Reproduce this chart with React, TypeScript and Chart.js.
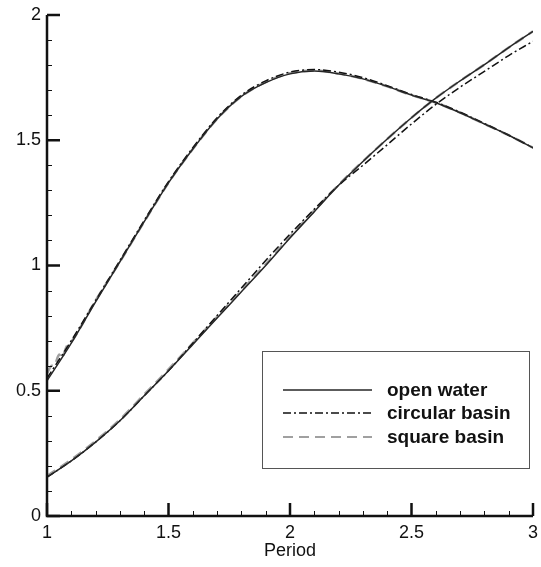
import React, { useEffect, useRef } from "react";
import { Chart, registerables } from "chart.js";

Chart.register(...registerables);

// ---- data ----
const periods = [1.0, 1.1, 1.2, 1.3, 1.4, 1.5, 1.6, 1.7, 1.8, 1.9, 2.0, 2.1, 2.2, 2.3, 2.4, 2.5, 2.6, 2.7, 2.8, 2.9, 3.0];

const openWaterUpper = [0.54, 0.69, 0.855, 1.015, 1.175, 1.33, 1.465, 1.585, 1.675, 1.73, 1.765, 1.776, 1.765, 1.745, 1.715, 1.68, 1.65, 1.61, 1.565, 1.52, 1.47];
const openWaterLower = [0.155, 0.22, 0.295, 0.38, 0.48, 0.58, 0.685, 0.79, 0.895, 1.0, 1.11, 1.215, 1.32, 1.415, 1.505, 1.59, 1.668, 1.737, 1.802, 1.87, 1.935];

const circularUpper = [0.55, 0.7, 0.86, 1.02, 1.18, 1.335, 1.47, 1.59, 1.68, 1.737, 1.772, 1.782, 1.772, 1.75, 1.718, 1.683, 1.652, 1.612, 1.567, 1.52, 1.47];
const circularLower = [0.155, 0.22, 0.295, 0.38, 0.48, 0.58, 0.69, 0.8, 0.91, 1.02, 1.125, 1.225, 1.32, 1.4, 1.482, 1.565, 1.643, 1.712, 1.775, 1.838, 1.895];

const squareUpperPeriods = [1.0, 1.02, 1.03, 1.05, 1.06, 1.08, 1.1, 1.2, 1.3, 1.4, 1.5, 1.6, 1.7, 1.8, 1.9, 2.0, 2.1, 2.2, 2.3, 2.4, 2.5, 2.6, 2.7, 2.8, 2.9, 3.0];
const squareUpper = [0.57, 0.6, 0.6, 0.645, 0.63, 0.675, 0.695, 0.86, 1.015, 1.175, 1.33, 1.465, 1.585, 1.675, 1.732, 1.768, 1.778, 1.766, 1.745, 1.715, 1.68, 1.65, 1.61, 1.565, 1.52, 1.47];
const squareLower = [0.16, 0.225, 0.3, 0.385, 0.485, 0.585, 0.69, 0.795, 0.9, 1.005, 1.115, 1.22, 1.322, 1.416, 1.505, 1.59, 1.668, 1.737, 1.802, 1.87, 1.935];

const seriesNames = ["open water", "circular basin", "square basin"];
const xMin = 1, xMax = 3, xMajorStep = 0.5, xMinorStep = 0.1;
const yMin = 0, yMax = 2, yMajorStep = 0.5, yMinorStep = 0.1;

const FONT = "'Liberation Sans', Arial, sans-serif";

const styles = [
  { color: "#262626", width: 1.5, dash: [] as number[] },
  { color: "#111111", width: 1.5, dash: [8, 3, 2, 3] },
  { color: "#a0a0a0", width: 2.5, dash: [10, 6] },
];

const toPoints = (xs: number[], ys: number[]) => xs.map((x, i) => ({ x, y: ys[i] }));

const decorPlugin = {
  id: "decor",
  afterDraw(chart: any) {
    const { ctx, chartArea, scales } = chart;
    const xs = scales.x, ys = scales.y;
    const { left, right, top, bottom } = chartArea;
    ctx.save();
    ctx.strokeStyle = "#111";
    // minor ticks
    ctx.lineWidth = 1;
    ctx.beginPath();
    const nx = Math.round((xMax - xMin) / xMinorStep);
    for (let i = 0; i <= nx; i++) {
      const v = xMin + i * xMinorStep;
      if (i % Math.round(xMajorStep / xMinorStep) === 0) continue;
      const px = Math.round(xs.getPixelForValue(v)) + 0.5;
      ctx.moveTo(px, bottom);
      ctx.lineTo(px, bottom - 5);
    }
    const ny = Math.round((yMax - yMin) / yMinorStep);
    for (let i = 0; i <= ny; i++) {
      const v = yMin + i * yMinorStep;
      if (i % Math.round(yMajorStep / yMinorStep) === 0) continue;
      const py = Math.round(ys.getPixelForValue(v)) + 0.5;
      ctx.moveTo(left, py);
      ctx.lineTo(left + 5, py);
    }
    ctx.stroke();
    // major ticks
    ctx.lineWidth = 2.5;
    ctx.beginPath();
    for (let v = xMin; v <= xMax + 1e-9; v += xMajorStep) {
      const px = xs.getPixelForValue(v);
      ctx.moveTo(px, bottom);
      ctx.lineTo(px, bottom - 13);
    }
    for (let v = yMin; v <= yMax + 1e-9; v += yMajorStep) {
      const py = ys.getPixelForValue(v);
      ctx.moveTo(left, py);
      ctx.lineTo(left + 13, py);
    }
    ctx.stroke();
    // axis lines
    ctx.lineWidth = 2.5;
    ctx.beginPath();
    ctx.moveTo(left, top);
    ctx.lineTo(left, bottom);
    ctx.lineTo(right, bottom);
    ctx.stroke();

    // legend box
    const bx = 262, by = 351, bw = 267, bh = 117;
    ctx.lineWidth = 1;
    ctx.strokeStyle = "#555";
    ctx.strokeRect(bx + 0.5, by + 0.5, bw, bh);
    const rowY = [390, 413, 437];
    ctx.font = `bold 19px ${FONT}`;
    ctx.textBaseline = "middle";
    ctx.fillStyle = "#111";
    seriesNames.forEach((name, i) => {
      const s = styles[i];
      ctx.strokeStyle = s.color;
      ctx.lineWidth = i === 2 ? 2 : 1.5;
      ctx.setLineDash(s.dash);
      ctx.beginPath();
      ctx.moveTo(283, rowY[i]);
      ctx.lineTo(372, rowY[i]);
      ctx.stroke();
      ctx.setLineDash([]);
      ctx.fillText(name, 387, rowY[i] + 1);
    });
    ctx.restore();
  },
};

export default function App() {
  const ref = useRef<HTMLCanvasElement | null>(null);

  useEffect(() => {
    if (!ref.current) return;
    const mk = (label: string, data: any[], si: number, order: number) => ({
      label,
      data,
      borderColor: styles[si].color,
      borderWidth: styles[si].width,
      borderDash: styles[si].dash,
      pointRadius: 0,
      fill: false,
      cubicInterpolationMode: "monotone" as const,
      order,
    });
    const fmt = (v: any) => `${+Number(v).toFixed(2)}`;
    const chart = new Chart(ref.current, {
      type: "line",
      data: {
        datasets: [
          mk(seriesNames[2], toPoints(squareUpperPeriods, squareUpper), 2, 3),
          mk(seriesNames[2], toPoints(periods, squareLower), 2, 3),
          mk(seriesNames[1], toPoints(periods, circularUpper), 1, 2),
          mk(seriesNames[1], toPoints(periods, circularLower), 1, 2),
          mk(seriesNames[0], toPoints(periods, openWaterUpper), 0, 1),
          mk(seriesNames[0], toPoints(periods, openWaterLower), 0, 1),
        ],
      },
      options: {
        responsive: false,
        animation: false,
        layout: { padding: { top: 15, right: 8, left: 0, bottom: 0 } },
        plugins: { legend: { display: false }, tooltip: { enabled: false } },
        scales: {
          x: {
            type: "linear",
            min: xMin,
            max: xMax,
            grid: { display: false, drawTicks: false },
            border: { display: false },
            ticks: { stepSize: xMajorStep, padding: 6, color: "#111", font: { family: FONT, size: 18 }, maxRotation: 0, callback: fmt },
            title: { display: true, text: "Period", color: "#111", font: { family: FONT, size: 18 }, padding: { top: 0, bottom: 5 } },
            afterFit: (s: any) => { s.height = 51; s.paddingLeft = 0; s.paddingRight = 0; },
          },
          y: {
            type: "linear",
            min: yMin,
            max: yMax,
            grid: { display: false, drawTicks: false },
            border: { display: false },
            ticks: { stepSize: yMajorStep, padding: 6, color: "#111", font: { family: FONT, size: 18 }, callback: fmt },
            afterFit: (s: any) => { s.width = 47; s.paddingTop = 0; s.paddingBottom = 0; },
          },
        },
      },
      plugins: [decorPlugin],
    });
    return () => chart.destroy();
  }, []);

  return (
    <div style={{ position: "absolute", left: 0, top: 0, width: 541, height: 567, background: "#fff" }}>
      <canvas ref={ref} width={541} height={567} />
    </div>
  );
}
